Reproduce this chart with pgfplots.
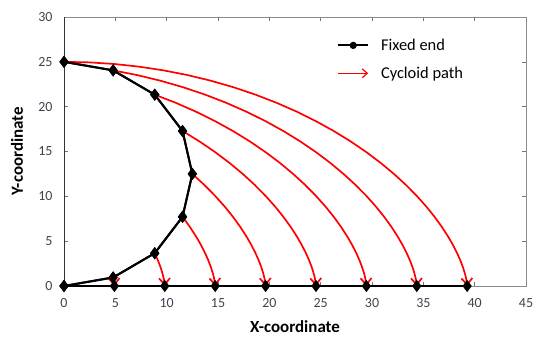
\documentclass[border=0pt]{standalone}
\usepackage{fontspec}
\setmainfont{Carlito}
\usepackage{pgfplots}
\pgfplotsset{compat=1.18}
\usetikzlibrary{arrows.meta}
\definecolor{ticktext}{HTML}{3F4350}
\begin{document}
\begin{tikzpicture}
\begin{axis}[
  scale only axis, width=462bp, height=269bp,
  xmin=0, xmax=45, ymin=0, ymax=30,
  xtick={0,5,...,45}, ytick={0,5,...,30},
  tick align=inside, major tick length=4bp,
  tick style={black!55, line width=0.5pt},
  axis line style={black!45, line width=0.8pt},
  ticklabel style={font=\fontsize{14}{16}\selectfont, text=ticktext},
  xticklabel style={yshift=-9bp},
  yticklabel style={xshift=-8bp},
  /pgf/number format/assume math mode=true,
  xlabel={\textbf{X-coordinate}}, ylabel={\textbf{Y-coordinate}},
  label style={font=\fontsize{17}{19}\selectfont},
  xlabel style={at={(axis description cs:0.5,0)}, anchor=center, yshift=-41bp},
  ylabel style={at={([xshift=-47bp]axis description cs:0,0.5)}, anchor=center},
  clip=false,
  legend style={draw=none, fill=none, at={(0.585,0.934)}, anchor=north west,
    font=\fontsize{16.5}{19}\selectfont, row sep=11bp, column sep=10bp, legend cell align=left},
  legend image code/.code={},
]
\coordinate (ll) at (rel axis cs:0,0);
\coordinate (ur) at (rel axis cs:1,1);
\draw[black!80, line width=0.9pt] (rel axis cs:0,0) -- (rel axis cs:0,1);
% Fixed end
\addplot[black, line width=2pt, mark=diamond*, mark size=4.5bp,
  legend image code/.code={\draw[black, line width=1.8pt] (0cm,0cm) -- (1.05cm,0cm); \fill[black] (0.525cm,0cm) circle (2.6pt);}]
  coordinates {(0,0) (4.784,0.952) (8.839,3.661) (11.548,7.717) (12.5,12.5) (11.548,17.284) (8.839,21.339) (4.784,24.049) (0,25)};
\addlegendentry{Fixed end}
\addplot[black, line width=2pt, mark=diamond*, mark size=4.5bp, forget plot]
  coordinates {(0,0) (4.909,0) (9.817,0) (14.726,0) (19.635,0) (24.544,0) (29.452,0) (34.361,0) (39.270,0)};
% Cycloid paths
\pgfplotsset{cyc/.style={red, line width=1.7pt, -{Straight Barb[length=6.5bp,width=11bp]}}}
\addplot[cyc, legend image code/.code={\draw[red, line width=1.2pt, -{Straight Barb[length=5bp,width=9bp]}] (0cm,0cm) -- (1.05cm,0cm);}]
  coordinates {(4.784,0.952) (4.847,0.538) (4.893,0.240) (4.907,0.060) (4.909,0)};
\addlegendentry{Cycloid path}
\addplot[cyc, forget plot] coordinates {(8.838,3.661) (9.157,2.837) (9.399,2.107) (9.574,1.476) (9.692,0.952) (9.764,0.538) (9.801,0.240) (9.815,0.060) (9.817,0)};
\addplot[cyc, forget plot] coordinates {(11.548,7.717) (12.251,6.608) (12.847,5.555) (13.344,4.570) (13.747,3.661) (14.066,2.837) (14.308,2.107) (14.483,1.476) (14.601,0.952) (14.673,0.538) (14.710,0.240) (14.724,0.060) (14.726,0)};
\addplot[cyc, forget plot] coordinates {(12.500,12.5) (13.667,11.275) (14.714,10.061) (15.643,8.872) (16.457,7.717) (17.160,6.608) (17.756,5.555) (18.253,4.570) (18.656,3.661) (18.975,2.837) (19.217,2.107) (19.392,1.476) (19.510,0.952) (19.582,0.538) (19.619,0.240) (19.633,0.060) (19.635,0)};
\addplot[cyc, forget plot] coordinates {(11.549,17.284) (13.189,16.129) (14.714,14.939) (16.122,13.725) (17.409,12.5) (18.576,11.275) (19.623,10.061) (20.552,8.872) (21.366,7.717) (22.069,6.608) (22.665,5.555) (23.162,4.570) (23.565,3.661) (23.884,2.837) (24.126,2.107) (24.301,1.476) (24.419,0.952) (24.491,0.538) (24.528,0.240) (24.542,0.060) (24.544,0)};
\addplot[cyc, forget plot] coordinates {(8.838,21.339) (10.889,20.430) (12.847,19.445) (14.705,18.393) (16.457,17.284) (18.097,16.129) (19.622,14.939) (21.030,13.725) (22.317,12.5) (23.484,11.275) (24.531,10.061) (25.460,8.872) (26.274,7.717) (26.977,6.608) (27.573,5.555) (28.070,4.570) (28.473,3.661) (28.792,2.837) (29.034,2.107) (29.209,1.476) (29.327,0.952) (29.399,0.538) (29.436,0.240) (29.450,0.060) (29.452,0)};
\addplot[cyc, forget plot] coordinates {(4.783,24.049) (7.119,23.524) (9.399,22.893) (11.611,22.163) (13.747,21.339) (15.798,20.430) (17.756,19.445) (19.614,18.393) (21.366,17.284) (23.006,16.129) (24.531,14.939) (25.939,13.725) (27.226,12.5) (28.393,11.275) (29.440,10.061) (30.369,8.872) (31.183,7.717) (31.886,6.608) (32.482,5.555) (32.979,4.570) (33.382,3.661) (33.701,2.837) (33.943,2.107) (34.118,1.476) (34.236,0.952) (34.308,0.538) (34.345,0.240) (34.359,0.060) (34.361,0)};
\addplot[cyc, forget plot] coordinates {(0,25) (2.452,24.940) (4.893,24.760) (7.310,24.462) (9.692,24.049) (12.028,23.524) (14.308,22.893) (16.520,22.163) (18.656,21.339) (20.707,20.430) (22.665,19.445) (24.523,18.393) (26.275,17.284) (27.915,16.129) (29.440,14.939) (30.848,13.725) (32.135,12.5) (33.302,11.275) (34.349,10.061) (35.278,8.872) (36.092,7.717) (36.795,6.608) (37.391,5.555) (37.888,4.570) (38.291,3.661) (38.610,2.837) (38.852,2.107) (39.027,1.476) (39.145,0.952) (39.217,0.538) (39.254,0.240) (39.268,0.060) (39.270,0)};
% redraw fixed-end markers on top
\addplot[black, line width=2pt, mark=diamond*, mark size=4.5bp, forget plot]
  coordinates {(0,0) (4.784,0.952) (8.839,3.661) (11.548,7.717) (12.5,12.5) (11.548,17.284) (8.839,21.339) (4.784,24.049) (0,25)};
\end{axis}
\pgfresetboundingbox
\path ([shift={(-64bp,-59bp)}]ll) rectangle ([shift={(7bp,17bp)}]ur);
\end{tikzpicture}
\end{document}
